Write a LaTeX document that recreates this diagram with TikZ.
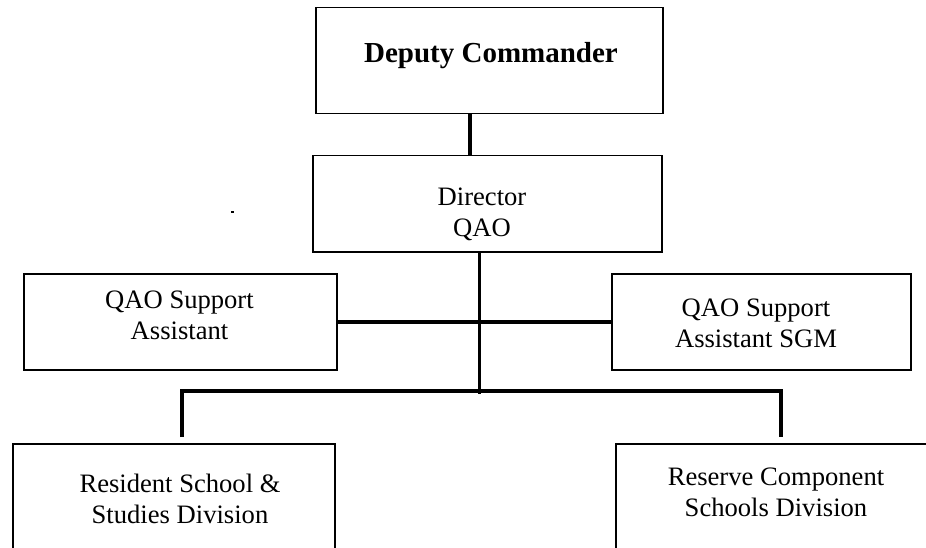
\documentclass[tikz,border=0pt]{standalone}
\usepackage{fontspec}
\setmainfont{Liberation Serif}
\begin{document}
\begin{tikzpicture}[x=1pt,y=-1pt,
  box/.style={draw=black, line width=1.5pt, fill=white, inner sep=0pt, anchor=north west},
  conn/.style={line width=3.8pt},
  lbl/.style={font=\fontsize{26.6}{31}\selectfont, align=center, inner sep=0pt, anchor=base},
  title/.style={font=\fontsize{29}{34}\selectfont\bfseries, inner sep=0pt, anchor=base}]
\useasboundingbox (0,0) rectangle (926,548);
\fill[white] (0,0) rectangle (926,548);
\begin{scope}
\clip (0,0) rectangle (926,548);

% boxes
\node[box, minimum width=347pt, minimum height=106pt] (dep)  at (315,7)   {};
\node[box, minimum width=349pt, minimum height=96pt]  (dir)  at (312,155) {};
\node[box, minimum width=313pt, minimum height=96pt]  (supL) at (23,273)  {};
\node[box, minimum width=299pt, minimum height=96pt]  (supR) at (611,273) {};
\node[box, minimum width=322pt, minimum height=110pt] (res)  at (12,443)  {};
\node[box, minimum width=325pt, minimum height=110pt] (rsv)  at (615,443) {};

% labels (two-line labels are placed by the baseline of their last line)
\node[title] (tdep)  at (491,62.7)  {Deputy Commander};
\node[lbl]   (tdir)  at (482,236.7) {Director\\QAO};
\node[lbl]   (tsupL) at (179.5,339.3) {QAO Support\\Assistant};
\node[lbl]   (tsupR) at (756,347.5) {QAO Support\\Assistant SGM};
\node[lbl]   (tres)  at (180,523.5) {Resident School \&\\Studies Division};
\node[lbl]   (trsv)  at (776,516.5) {Reserve Component\\Schools Division};

% junction points of the connectors
\coordinate (kA) at (470,0);
\coordinate (hub) at (479.5,392);
\coordinate (busL) at (182,391);
\coordinate (busR) at (781,391);
\coordinate (legL) at (182,437);
\coordinate (legR) at (781,437);

% connectors
\draw[conn] (dep.south -| kA) -- (dir.north -| kA);
\draw[conn] (supL.east) -- (supR.west);
\draw[conn] (dir.south -| hub) -- ([yshift=-2pt]hub);
\draw[conn] (legL) -- (busL) -- (busR) -- (legR);

% stray mark
\fill (231,211) rectangle (233.5,213);
\end{scope}
\end{tikzpicture}
\end{document}
